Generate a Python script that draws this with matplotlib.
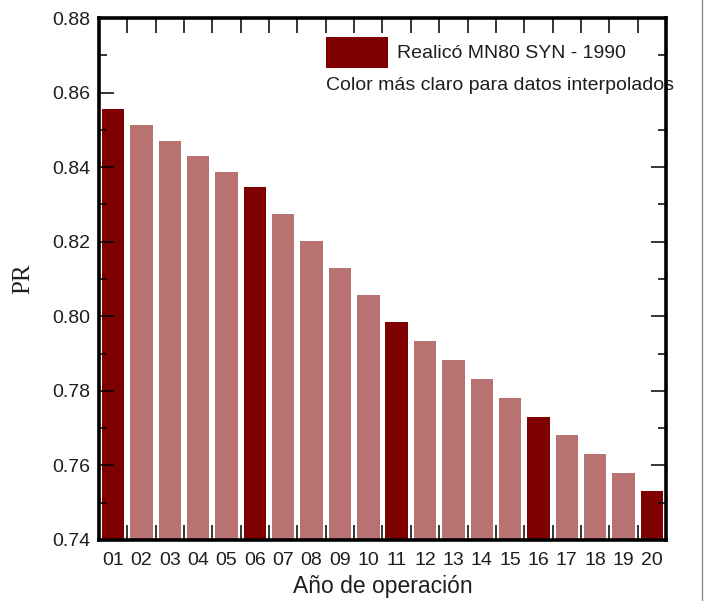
import matplotlib
matplotlib.use("Agg")
import matplotlib.pyplot as plt
from matplotlib.patches import Rectangle
from matplotlib.lines import Line2D
from matplotlib.ticker import MultipleLocator, FixedLocator, FormatStrFormatter

plt.rcParams['font.family'] = ['Liberation Sans', 'DejaVu Sans']

# Performance ratio per year of operation
years = ["01", "02", "03", "04", "05", "06", "07", "08", "09", "10",
         "11", "12", "13", "14", "15", "16", "17", "18", "19", "20"]
pr = [0.8556, 0.8514, 0.8471, 0.8430, 0.8388, 0.8346, 0.8274, 0.8201,
      0.8129, 0.8056, 0.7984, 0.7934, 0.7883, 0.7833, 0.7782, 0.7731,
      0.7681, 0.7632, 0.7581, 0.7531]
# True = simulated year, False = interpolated year
measured = [True, False, False, False, False, True, False, False, False, False,
            True, False, False, False, False, True, False, False, False, True]

dark = "#7f0000"
light = "#b87272"
text_color = "#1e1e1e"

fig = plt.figure(figsize=(7.04, 6.01), dpi=100)
ax = fig.add_axes([0.1406, 0.1015, 0.8054, 0.8685])

x = list(range(1, len(years) + 1))
colors = [dark if m else light for m in measured]
ax.bar(x, pr, width=0.79, color=colors, bottom=0, zorder=1)

ax.set_xlim(0.5, len(years) + 0.5)
ax.set_ylim(0.74, 0.88)

# x ticks: labels at bar centres, tick marks between bars
ax.xaxis.set_major_locator(FixedLocator(x))
ax.set_xticklabels(years)
ax.xaxis.set_minor_locator(FixedLocator([i + 0.5 for i in x[:-1]]))
ax.tick_params(axis='x', which='major', length=0, pad=9, labelsize=14,
               labelcolor=text_color)
ax.tick_params(axis='x', which='minor', direction='in', length=11, width=1.1,
               top=True, bottom=True)

ax.yaxis.set_major_locator(MultipleLocator(0.02))
ax.yaxis.set_minor_locator(MultipleLocator(0.01))
ax.yaxis.set_major_formatter(FormatStrFormatter('%.2f'))
ax.tick_params(axis='y', which='major', direction='in', length=11, width=1.1,
               left=True, right=True, labelsize=14, pad=6, labelcolor=text_color)
ax.tick_params(axis='y', which='minor', direction='in', length=6, width=1.1,
               left=True, right=True)

for s in ax.spines.values():
    s.set_linewidth(2.6)
    s.set_color("black")

ax.set_xlabel("Año de operación", fontsize=16.5, labelpad=4, color=text_color)
ax.set_ylabel("PR", fontsize=18, family=['Liberation Serif', 'DejaVu Serif'],
              labelpad=13, color=text_color)

# Legend block
ax.add_patch(Rectangle((0.4004, 0.904), 0.1093, 0.0596, transform=ax.transAxes,
                       facecolor=dark, edgecolor='none', zorder=3))
ax.text(0.5256, 0.933, "Realicó MN80 SYN - 1990", transform=ax.transAxes,
        fontsize=14, va='center', ha='left', zorder=2, color=text_color,
        bbox=dict(facecolor='white', edgecolor='none', pad=1))
ax.text(0.4004, 0.8716, "Color más claro para datos interpolados",
        transform=ax.transAxes, fontsize=14, va='center', ha='left', zorder=2,
        color=text_color, bbox=dict(facecolor='white', edgecolor='none', pad=1))

# thin frame line on the right edge of the figure
fig.add_artist(Line2D([0.9975, 0.9975], [0, 1], transform=fig.transFigure,
                      color="#8c8c8c", linewidth=1.0))

fig.savefig("out.png", dpi=100)
